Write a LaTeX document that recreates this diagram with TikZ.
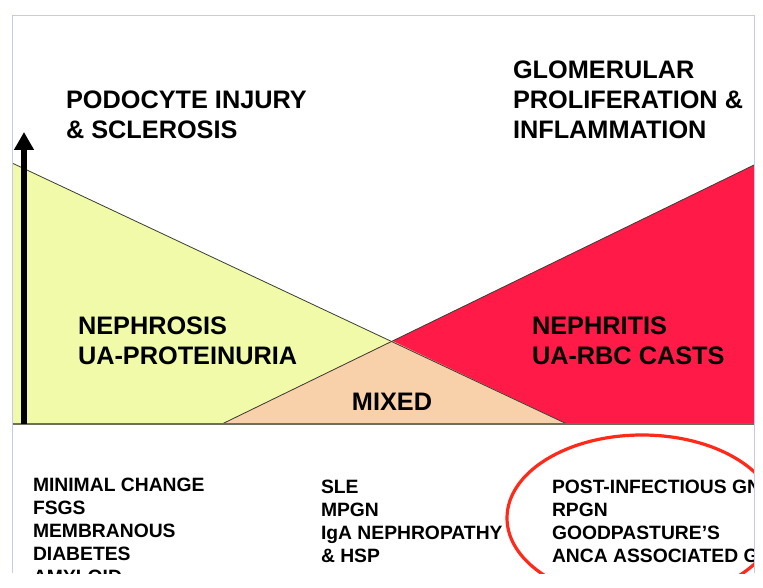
\documentclass[tikz,border=0pt]{standalone}
\usepackage{fontspec}
\setmainfont{Liberation Sans}
\usetikzlibrary{arrows.meta}
\definecolor{yel}{RGB}{240,250,168}
\definecolor{redf}{RGB}{255,26,72}
\definecolor{peach}{RGB}{248,208,170}
\definecolor{ellred}{RGB}{255,42,26}
\definecolor{framec}{RGB}{200,200,238}
\definecolor{edgec}{RGB}{60,60,50}
\definecolor{basec}{RGB}{110,110,95}
\begin{document}
\begin{tikzpicture}[x=1pt,y=-1pt,
  lbl/.style={font=\bfseries\fontsize{25.3}{30}\selectfont, anchor=base west, inner sep=0pt, outer sep=0pt},
  lst/.style={font=\bfseries\fontsize{19.3}{23}\selectfont, anchor=base west, inner sep=0pt, outer sep=0pt},
  edgeline/.style={draw=edgec, line width=0.8pt},
  baseline/.style={draw=basec, line width=1.2pt},
  framel/.style={draw=framec, line width=1pt}]
\useasboundingbox (0,0) rectangle (763,588);
\begin{scope}
\clip (12,16) rectangle (754,573);
% regions
\fill[yel] (12,163) -- (567,424) -- (12,424) -- cycle;
\fill[redf] (222,424) -- (754,165) -- (754,424) -- cycle;
\fill[peach] (222,424) -- (392.5,341) -- (567,424) -- cycle;
\draw[edgeline] (12,163) -- (567,424);
\draw[edgeline] (222,424) -- (754,165);
\draw[baseline] (12,424) -- (754,424);
% axis arrow
\coordinate (abot) at (24,424);
\coordinate (atop) at (24,132);
\draw[line width=6pt, -{Triangle[width=19pt,length=18pt]}] (abot) -- (atop);
% headings
\node[lbl] (pod1) at (66,109) {PODOCYTE INJURY};
\node[lbl] (pod2) at (66,139) {\& SCLEROSIS};
\node[lbl] (glo1) at (513,79) {GLOMERULAR};
\node[lbl] (glo2) at (513,109) {PROLIFERATION \&};
\node[lbl] (glo3) at (513,139) {INFLAMMATION};
\node[lbl] (nes1) at (78,334) {NEPHROSIS};
\node[lbl] (nes2) at (78,364) {UA-PROTEINURIA};
\node[lbl] (nit1) at (532,334) {NEPHRITIS};
\node[lbl] (nit2) at (532,364) {UA-RBC CASTS};
\node[lbl, anchor=base] (mix) at (392,410) {MIXED};
% lists
\node[lst] (l1) at (33,491) {MINIMAL CHANGE};
\node[lst] (l2) at (33,514) {FSGS};
\node[lst] (l3) at (33,537) {MEMBRANOUS};
\node[lst] (l4) at (33,560) {DIABETES};
\node[lst] (l5) at (33,583) {AMYLOID};
\node[lst] (m1) at (321,493) {SLE};
\node[lst] (m2) at (321,516) {MPGN};
\node[lst] (m3) at (321,539) {IgA NEPHROPATHY};
\node[lst] (m4) at (321,562) {\& HSP};
\node[lst] (r1) at (552,493) {POST-INFECTIOUS GN};
\node[lst] (r2) at (552,516) {RPGN};
\node[lst] (r3) at (552,539) {GOODPASTURE’S};
\node[lst] (r4) at (552,562) {ANCA ASSOCIATED GN};
% ellipse
\draw[ellred, line width=3.2pt] (642,518) ellipse [x radius=135, y radius=83];
\end{scope}
% frame
\draw[framel] (12,573) -- (12,16) -- (754,16) -- (754,573);
\end{tikzpicture}
\end{document}
